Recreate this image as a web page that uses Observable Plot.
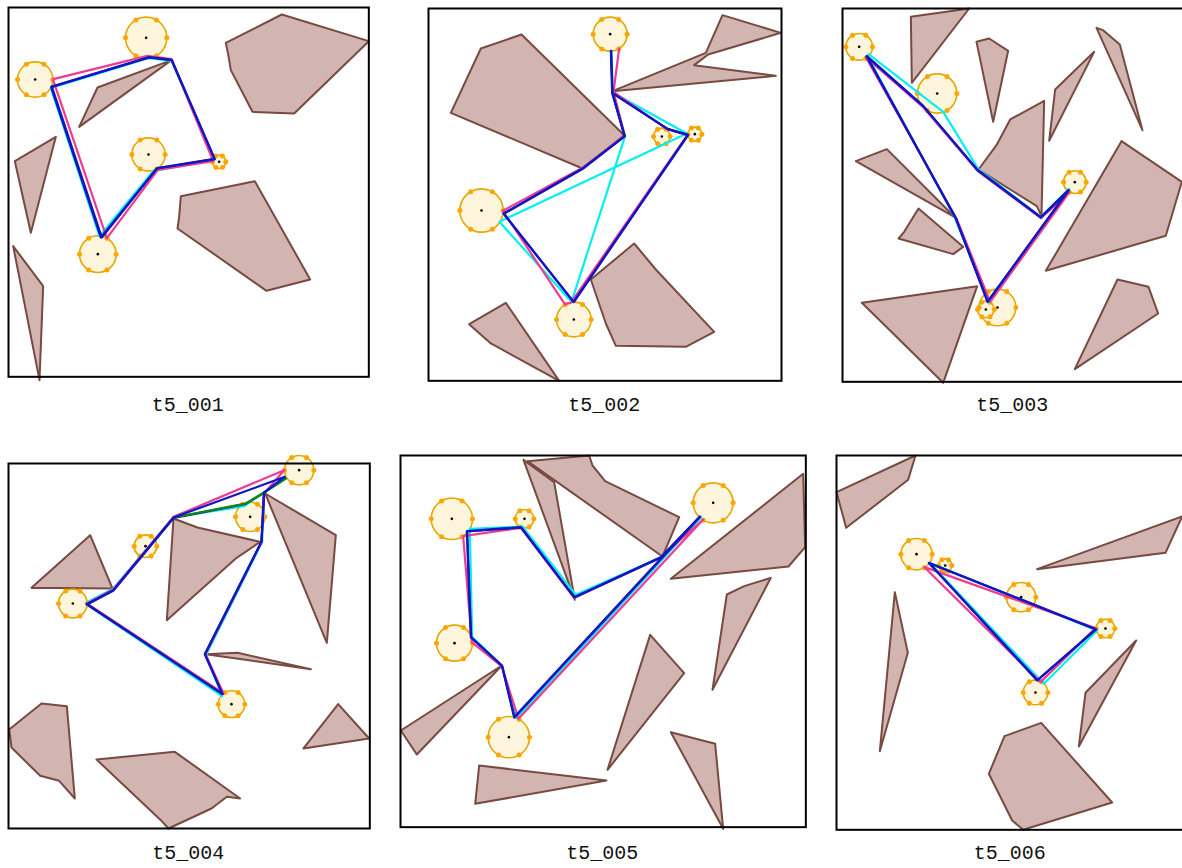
<!DOCTYPE html>
<html><head><meta charset="utf-8">
<script src="https://cdn.jsdelivr.net/npm/d3@7"></script>
<script src="https://cdn.jsdelivr.net/npm/@observablehq/plot@0.6"></script>
<style>
html,body{margin:0;padding:0;background:#fff;overflow:hidden;width:1182px;height:868px;}
#root{position:relative;width:1182px;height:868px;overflow:hidden;}
.panel{position:absolute;}
.panel svg{overflow:visible;display:block;}
.label{position:absolute;font-family:"Liberation Mono","DejaVu Sans Mono",monospace;font-size:20px;line-height:20px;color:#111;transform:translateX(-50%);white-space:nowrap;}
</style></head><body><div id="root"></div>
<script>
// ---------------- data (world units of each panel) ----------------
// series: A = pink tour, B = cyan tour, C = blue tour, D = indigo tour, E = green tour
const titles = ["t5_001","t5_002","t5_003","t5_004","t5_005","t5_006"];
const frames = [[23,1104,22,1130],[23,1082,25,1142],[20,1044,25,1145],[23,1107,40,1135],[14,1230,15,1130],[18,1060,15,1138]];

const obstacles1 = [
 [[675,128],[843,43],[1104,123],[880,340],[755,335],[690,210],[683,168]],
 [[290,262],[512,180],[235,380]],
 [[42,483],[165,410],[90,698]],
 [[37,738],[127,858],[116,1140]],
 [[540,588],[762,543],[928,838],[797,872],[530,685],[535,650]]
];
const circles1 = [[436,113,62],[103,238,53],[443,463,50],[655,485,20],[291,762,55]];
const tours1 = [
 ["B",[[150,263],[442,174],[512,182],[640,480],[458,512],[296,708],[150,263]]],
 ["A",[[157,237],[440,167],[512,177],[637,483],[471,509],[318,714],[157,240]]],
 ["C",[[151,261],[445,172],[512,180],[642,477],[468,505],[300,712],[151,261]]],
 ["D",[[153,259],[445,171],[513,179],[641,476],[469,504],[303,712],[153,259]]]
];

const obstacles2 = [
 [[90,338],[180,145],[302,103],[610,405],[485,505]],
 [[575,273],[855,158],[905,45],[1080,98],[862,163],[820,195],[1065,227]],
 [[510,838],[640,730],[705,808],[880,995],[795,1040],[585,1037],[555,970]],
 [[145,972],[255,908],[415,1142],[210,1030]]
];
const circles2 = [[568,102,51],[182,631,65],[459,958,52],[723,409,25],[822,402,21]];
const tours2 = [
 ["B",[[572,152],[576,278],[798,400],[236,665],[452,905],[612,410],[576,278],[572,152]]],
 ["A",[[595,145],[578,275],[738,386],[800,404],[450,908],[432,912],[246,632],[485,503],[612,406],[578,275],[595,145]]],
 ["C",[[570,152],[574,278],[740,386],[802,405],[458,905],[248,640],[485,505],[612,408],[574,278],[570,152]]],
 ["D",[[571,152],[575,279],[741,387],[801,404],[459,906],[249,641],[486,506],[611,409],[575,279],[571,152]]]
];

const obstacles3 = [
 [[225,50],[400,25],[228,248]],
 [[422,125],[460,115],[517,152],[472,365]],
 [[782,83],[802,90],[852,133],[920,390]],
 [[658,268],[775,155],[640,422]],
 [[428,508],[482,435],[523,358],[625,302],[617,648],[603,618]],
 [[60,483],[153,447],[358,652]],
 [[188,715],[205,695],[248,625],[382,740],[352,762]],
 [[78,908],[424,858],[322,1148]],
 [[857,423],[1038,545],[990,707],[630,812]],
 [[845,838],[938,860],[967,940],[717,1107]]
];
const circles3 = [[70,140,40],[304,280,59],[717,546,34],[485,922,55],[450,928,25]];
const tours3 = [
 ["B",[[98,162],[322,335],[428,508],[615,650],[700,566],[460,908],[357,652],[95,168]]],
 ["A",[[90,171],[262,321],[425,512],[615,654],[701,576],[463,905],[362,655],[90,171]]],
 ["C",[[92,168],[262,318],[425,510],[615,652],[698,570],[455,905],[360,655],[92,168]]],
 ["D",[[93,168],[263,318],[426,510],[615,651],[699,570],[456,904],[360,654],[93,168]]]
];

const obstacles4 = [
 [[92,413],[268,255],[335,415]],
 [[518,205],[590,232],[778,275],[705,325],[498,510]],
 [[793,130],[1005,255],[978,578]],
 [[615,612],[710,608],[930,657]],
 [[25,838],[122,760],[198,768],[222,1045],[175,992],[118,977],[32,892],[28,860]],
 [[287,928],[522,905],[718,1045],[678,1040],[632,1075],[503,1135],[480,1110]],
 [[908,895],[1012,762],[1105,865]]
];
const circles4 = [[895,60,44],[748,200,44],[434,288,34],[216,460,43],[692,762,40]];
const tours4 = [
 ["B",[[262,466],[258,456],[337,416],[518,202],[730,168],[788,128],[855,85],[790,127],[784,275],[616,614],[664,738],[262,466]]],
 ["A",[[258,460],[337,418],[518,200],[850,60],[788,132],[782,275],[614,612],[668,730],[258,460]]],
 ["D",[[259,463],[338,421],[519,203],[735,161],[790,127],[782,275],[612,612],[665,732],[259,463]]],
 ["E",[[518,202],[735,160],[790,127],[855,85]]],
 ["C",[[258,462],[337,420],[518,202],[852,80],[790,127],[782,275],[612,612],[665,732],[258,462]]]
];

const obstacles5 = [
 [[395,32],[580,15],[590,45],[628,92],[850,200],[800,318]],
 [[383,28],[475,95],[537,448]],
 [[825,385],[1222,70],[1228,290],[1178,348]],
 [[993,432],[1045,407],[1125,382],[950,718]],
 [[763,553],[865,668],[635,958]],
 [[825,845],[958,880],[982,1135]],
 [[250,945],[632,990],[238,1060]],
 [[15,840],[318,645],[63,912]]
];
const circles5 = [[168,205,62],[386,205,28],[952,157,60],[176,578,54],[339,860,62]];
const tours5 = [
 ["B",[[222,235],[380,228],[540,433],[795,320],[916,200],[362,803],[318,645],[229,560],[222,235]]],
 ["A",[[202,257],[375,232],[535,442],[795,320],[922,207],[368,805],[318,648],[228,575],[202,257]]],
 ["C",[[213,242],[375,230],[535,440],[795,320],[912,198],[355,800],[318,645],[225,560],[213,242]]],
 ["D",[[214,243],[376,231],[536,441],[796,321],[913,199],[356,801],[319,646],[226,561],[214,243]]]
];

const obstacles6 = [
 [[18,125],[255,15],[233,88],[47,232]],
 [[620,356],[1055,198],[1005,307]],
 [[193,425],[232,607],[148,902]],
 [[765,727],[917,570],[745,888]],
 [[522,857],[632,817],[845,1056],[578,1138],[545,1110],[475,970]]
];
const circles6 = [[258,311,47],[344,345,20],[572,440,44],[825,534,28],[615,726,37]];
const tours6 = [
 ["B",[[300,338],[800,540],[640,700],[300,340]]],
 ["A",[[282,350],[795,533],[630,695],[282,350]]],
 ["C",[[295,337],[797,537],[620,690],[295,337]]],
 ["D",[[296,338],[796,536],[621,689],[296,338]]]
];

const panelObstacles = [obstacles1,obstacles2,obstacles3,obstacles4,obstacles5,obstacles6];
const panelCircles = [circles1,circles2,circles3,circles4,circles5,circles6];
const panelTours = [tours1,tours2,tours3,tours4,tours5,tours6];

// ---------------- layout & style ----------------
const origins = [[0,0],[420,0],[835,0],[0,450],[395,450],[830,450]];
const labelTops = [396,396,396,844,844,844];
const m = 4;
const seriesOrder = ["B","A","D","E","C"];
const seriesColors = {B:"#00f0f0", A:"#ec3d93", D:"#2a0ea8", E:"#108a10", C:"#1018c4"};

const root = document.getElementById("root");
for (let i = 0; i < 6; i++) {
  const [x0,x1,y0,y1] = frames[i];
  const w = (x1-x0)/3, h = (y1-y0)/3;
  const [ox, oy] = origins[i];

  const polyRows = [];
  panelObstacles[i].forEach((poly, id) => {
    [...poly, poly[0]].forEach(([x,y]) => polyRows.push({id, x, y}));
  });
  const circ = panelCircles[i].map(([x,y,r]) => ({x,y,r}));
  const ring = [];
  for (const c of circ) for (let k = 0; k < 6; k++) {
    const a = k*Math.PI/3;
    ring.push({x: c.x + c.r*Math.cos(a), y: c.y + c.r*Math.sin(a)});
  }
  const lineRows = [];
  for (const [key, pts] of panelTours[i]) pts.forEach(([x,y]) => lineRows.push({key, x, y}));

  const marks = [
    Plot.line(polyRows, {x:"x", y:"y", z:"id", fill:"#d2b5b0", stroke:"#774a42", strokeWidth:2, strokeLinejoin:"round"}),
    Plot.dot(circ, {x:"x", y:"y", r:"r", fill:"#fdf6dc", stroke:"#e4a800", strokeWidth:1.6}),
    Plot.dot(ring, {x:"x", y:"y", r:2.5, fill:"#ffa500", stroke:"none"}),
    Plot.dot(circ, {x:"x", y:"y", r:1.3, fill:"black", stroke:"none"})
  ];
  for (const key of seriesOrder) {
    const rows = lineRows.filter(d => d.key === key);
    if (rows.length) marks.push(Plot.line(rows, {x:"x", y:"y", stroke:"key", strokeWidth:2.2, strokeLinejoin:"round", strokeLinecap:"round"}));
  }
  marks.push(Plot.frame({stroke:"black", strokeWidth:2}));

  const chart = Plot.plot({
    width: w + 2*m, height: h + 2*m,
    marginLeft: m, marginRight: m, marginTop: m, marginBottom: m,
    x: {domain:[x0,x1], range:[m, m+w], axis:null},
    y: {domain:[y0,y1], range:[m, m+h], axis:null},
    r: {type:"linear", domain:[0,3], range:[0,1]},
    color: {type:"ordinal", domain: seriesOrder, range: seriesOrder.map(k => seriesColors[k])},
    style: {background:"transparent", overflow:"visible"},
    marks
  });
  const div = document.createElement("div");
  div.className = "panel";
  div.style.left = (ox + x0/3 - m) + "px";
  div.style.top = (oy + y0/3 - m) + "px";
  div.style.width = (w + 2*m) + "px";
  div.appendChild(chart);
  root.appendChild(div);

  const lab = document.createElement("div");
  lab.className = "label";
  lab.textContent = titles[i];
  lab.style.left = (ox + (x0+x1)/6) + "px";
  lab.style.top = labelTops[i] + "px";
  root.appendChild(lab);
}
</script></body></html>
